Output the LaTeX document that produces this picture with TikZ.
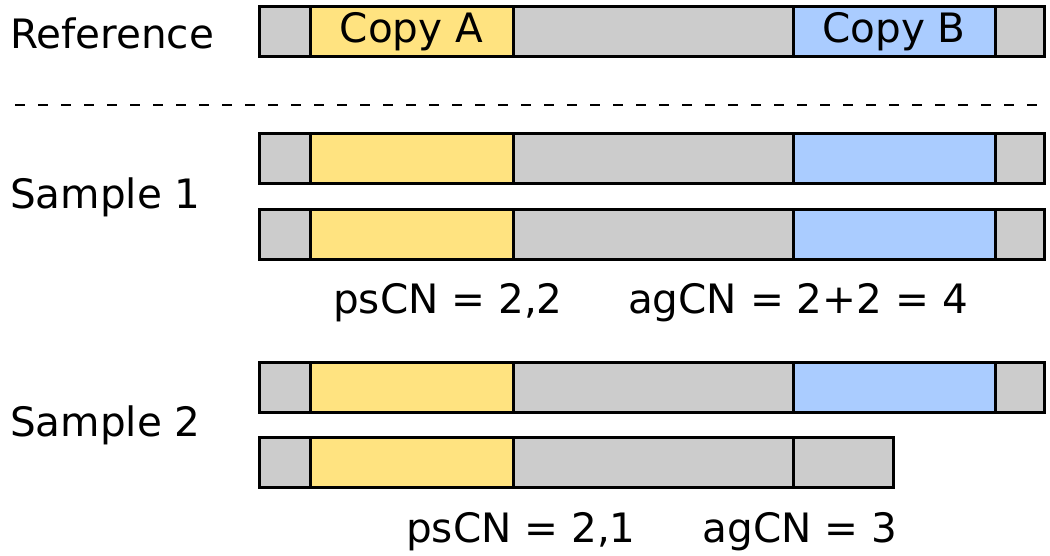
\documentclass[tikz,border=0pt]{standalone}
\usepackage{fontspec}
\setmainfont{DejaVu Sans}
\usepackage{tikz}
\definecolor{segGrey}{RGB}{204,204,204}
\definecolor{copyA}{RGB}{255,227,128}
\definecolor{copyB}{RGB}{170,204,255}
\tikzstyle{seg}=[draw=black, line width=3pt, rectangle, inner sep=0pt, minimum height=50pt]
\tikzstyle{label}=[inner sep=0pt, font=\fontsize{40.5}{48}\selectfont]

\begin{document}
\begin{tikzpicture}[x=1pt, y=-1pt]
\useasboundingbox (0,0) rectangle (1050,556);

% reference
\node[seg, fill=segGrey, minimum width=51pt] (r_1) at (284.5,32) {};
\node[seg, fill=copyA, minimum width=203pt] (r_a) at (411.5,32) {};
\node[seg, fill=segGrey, minimum width=280pt] (r_2) at (653,32) {};
\node[seg, fill=copyB, minimum width=202pt] (r_b) at (894,32) {};
\node[seg, fill=segGrey, minimum width=49pt] (r_3) at (1019.5,32) {};
\node[label] (copyA) at (r_a) {Copy A};
\node[label] (copyB) at (r_b) {Copy B};
\node[label, anchor=west] (ref) at (10,33) {Reference};

\coordinate (sep_l) at (15,105);
\coordinate (sep_r) at (1045,105);
\draw[line width=2.6pt, dash pattern=on 10pt off 13pt] (sep_l)--(sep_r);

% sample 1
\node[seg, fill=segGrey, minimum width=51pt] (s1a_1) at (284.5,159) {};
\node[seg, fill=copyA, minimum width=203pt] (s1a_a) at (411.5,159) {};
\node[seg, fill=segGrey, minimum width=280pt] (s1a_2) at (653,159) {};
\node[seg, fill=copyB, minimum width=202pt] (s1a_b) at (894,159) {};
\node[seg, fill=segGrey, minimum width=49pt] (s1a_3) at (1019.5,159) {};

\node[seg, fill=segGrey, minimum width=51pt] (s1b_1) at (284.5,235) {};
\node[seg, fill=copyA, minimum width=203pt] (s1b_a) at (411.5,235) {};
\node[seg, fill=segGrey, minimum width=280pt] (s1b_2) at (653,235) {};
\node[seg, fill=copyB, minimum width=202pt] (s1b_b) at (894,235) {};
\node[seg, fill=segGrey, minimum width=49pt] (s1b_3) at (1019.5,235) {};

\node[label, anchor=west] (sample1) at (10,197) {Sample 1};
\node[label] (ps1) at (448,303) {psCN = 2,2};
\node[label] (ag1) at (798,303) {agCN = 2+2 = 4};

% sample 2
\node[seg, fill=segGrey, minimum width=51pt] (s2a_1) at (284.5,387) {};
\node[seg, fill=copyA, minimum width=203pt] (s2a_a) at (411.5,387) {};
\node[seg, fill=segGrey, minimum width=280pt] (s2a_2) at (653,387) {};
\node[seg, fill=copyB, minimum width=202pt] (s2a_b) at (894,387) {};
\node[seg, fill=segGrey, minimum width=49pt] (s2a_3) at (1019.5,387) {};

\node[seg, fill=segGrey, minimum width=51pt] (s2b_1) at (284.5,462.5) {};
\node[seg, fill=copyA, minimum width=203pt] (s2b_a) at (411.5,462.5) {};
\node[seg, fill=segGrey, minimum width=280pt] (s2b_2) at (653,462.5) {};
\node[seg, fill=segGrey, minimum width=100pt] (s2b_3) at (843,462.5) {};

\node[label, anchor=west] (sample2) at (10,425) {Sample 2};
\node[label] (ps2) at (521,532) {psCN = 2,1};
\node[label] (ag2) at (800,532) {agCN = 3};
\end{tikzpicture}
\end{document}
